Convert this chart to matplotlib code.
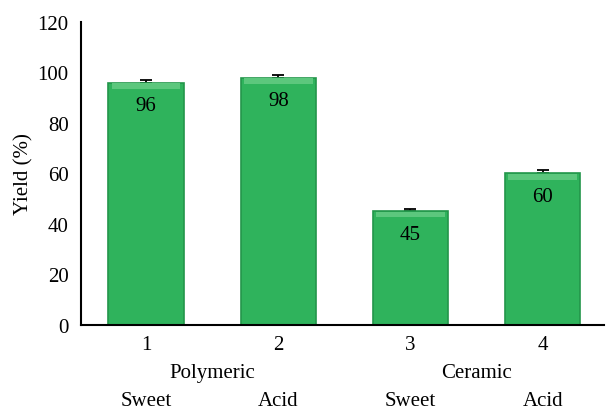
import matplotlib.pyplot as plt
import numpy as np

bar_ids = ["1", "2", "3", "4"]
yields = [96, 98, 45, 60]
errors = [1.0, 1.0, 1.0, 1.5]
groups = ["Polymeric", "Ceramic"]
conditions = ["Sweet", "Acid", "Sweet", "Acid"]

plt.rcParams["font.family"] = ["Liberation Serif", "DejaVu Serif"]

fig = plt.figure(figsize=(6.06, 4.10), dpi=100)
ax = fig.add_axes([0.134, 0.205, 0.862, 0.739])

x = np.arange(len(bar_ids))
ax.bar(x, yields, width=0.57, color="#2fb35c", edgecolor="#23964a",
       linewidth=1.2, zorder=2)
# lighter bevel on top of each bar
ax.bar(x, [2.2] * len(x), bottom=np.array(yields) - 2.4, width=0.52,
       color="#5cc77d", linewidth=0, zorder=3)
ax.errorbar(x, yields, yerr=[[0] * len(x), errors], fmt="none", ecolor="black",
            elinewidth=1.3, capsize=4.5, capthick=1.3, zorder=1)

for xi, v in zip(x, yields):
    ax.text(xi, v - 9, str(v), ha="center", va="center", fontsize=15,
            color="black", zorder=5)

ax.set_xlim(-0.49, 3.46)
ax.set_ylim(0, 120)
ax.set_yticks(range(0, 121, 20))
ax.set_xticks(x)
ax.set_xticklabels(bar_ids)
ax.tick_params(axis="both", length=0, labelsize=15, pad=9)
ax.tick_params(axis="x", pad=7)
ax.set_ylabel("Yield (%)", fontsize=15, labelpad=3)

for s in ["top", "right"]:
    ax.spines[s].set_visible(False)
ax.spines["left"].set_linewidth(1.5)
ax.spines["bottom"].set_linewidth(1.5)

tr = ax.get_xaxis_transform()
ax.text(0.5, -0.158, groups[0], transform=tr, ha="center", va="center",
        fontsize=15, clip_on=False)
ax.text(2.5, -0.158, groups[1], transform=tr, ha="center", va="center",
        fontsize=15, clip_on=False)
for xi, c in zip(x, conditions):
    ax.text(xi, -0.248, c, transform=tr, ha="center",
            va="center", fontsize=15, clip_on=False)

fig.savefig("out.png", dpi=100)
